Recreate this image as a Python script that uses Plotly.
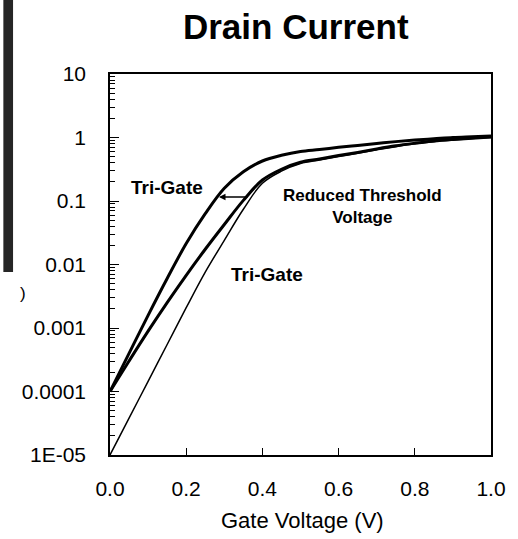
import plotly.graph_objects as go

# Gate voltage (V)
vg = [0.0, 0.05, 0.10, 0.15, 0.20, 0.25, 0.30, 0.35, 0.40, 0.45, 0.50,
      0.55, 0.60, 0.65, 0.70, 0.75, 0.80, 0.85, 0.90, 0.95, 1.00]

# log10 of drain current for each curve
log_tri_gate_low_vt = [-4.0, -3.40, -2.80, -2.22, -1.67, -1.20, -0.80, -0.54, -0.37, -0.28, -0.22,
                       -0.19, -0.155, -0.125, -0.095, -0.065, -0.04, -0.02, 0.0, 0.012, 0.024]
log_tri_gate = [-4.0, -3.52, -3.05, -2.60, -2.17, -1.76, -1.37, -0.99, -0.67, -0.50, -0.39,
                -0.34, -0.285, -0.235, -0.18, -0.13, -0.09, -0.055, -0.03, -0.01, 0.008]
log_planar = [-5.0, -4.42, -3.84, -3.26, -2.68, -2.12, -1.62, -1.13, -0.72, -0.53, -0.41,
              -0.355, -0.30, -0.25, -0.195, -0.145, -0.10, -0.065, -0.04, -0.015, 0.0]

ytick_vals = [1e-5, 1e-4, 1e-3, 1e-2, 1e-1, 1, 10]
ytick_text = ["1E-05", "0.0001", "0.001", "0.01", "0.1", "1", "10"]
xtick_vals = [0.0, 0.2, 0.4, 0.6, 0.8, 1.0]

FONT = "Liberation Sans, Arial, sans-serif"

fig = go.Figure()
for ys, w in [(log_planar, 1.5), (log_tri_gate, 3), (log_tri_gate_low_vt, 3)]:
    fig.add_trace(go.Scatter(
        x=vg, y=[10 ** v for v in ys], mode="lines",
        line=dict(color="black", width=w, shape="spline", smoothing=1.0),
        showlegend=False, hoverinfo="skip"))

minor_vals = [m * d for d in ytick_vals[:-1] for m in range(2, 10)]

fig.update_layout(
    width=518, height=539,
    margin=dict(l=110, r=15, t=74, b=84),
    paper_bgcolor="white", plot_bgcolor="white",
    font=dict(family=FONT, color="black", size=21),
    title=dict(text="<b>Drain Current</b>", x=0.571, xanchor="center",
               y=1 - 27 / 539, yanchor="middle",
               font=dict(family=FONT, size=35, color="black")),
)

fig.update_xaxes(
    range=[0, 1], tickvals=xtick_vals, tickformat=".1f",
    ticks="inside", ticklen=7, tickwidth=1.2, tickcolor="black",
    showline=True, linecolor="black", linewidth=1.5, mirror=True,
    showgrid=False, zeroline=False, ticklabelstandoff=14,
    tickfont=dict(size=21))

fig.update_yaxes(
    type="log", range=[-5, 1], tickvals=ytick_vals, ticktext=ytick_text,
    ticks="inside", ticklen=9, tickwidth=1.2, tickcolor="black",
    minor=dict(tickmode="array", tickvals=minor_vals, ticks="inside",
               ticklen=5, tickcolor="black", tickwidth=1, showgrid=False),
    showline=True, linecolor="black", linewidth=1.5, mirror=True,
    showgrid=False, zeroline=False, ticklabelstandoff=18,
    tickfont=dict(size=21))

# x-axis title
fig.add_annotation(text="Gate Voltage (V)", xref="paper", yref="paper",
                   x=(309 - 110) / 393, y=(455 - 520) / 381,
                   xanchor="center", yanchor="middle", showarrow=False,
                   font=dict(size=22, family=FONT))

# curve labels
fig.add_annotation(text="<b>Tri-Gate</b>", x=0.150, y=-0.795, xref="x", yref="y",
                   showarrow=False, font=dict(size=19, family=FONT))
fig.add_annotation(text="<b>Tri-Gate</b>", x=0.413, y=-2.165, xref="x", yref="y",
                   showarrow=False, font=dict(size=19, family=FONT))
fig.add_annotation(text="<b>Reduced Threshold<br>Voltage</b>", x=0.662, y=-1.08,
                   xref="x", yref="y", showarrow=False,
                   font=dict(size=17, family=FONT))

# arrow
fig.add_annotation(x=0.286, y=-0.937, ax=0.365, ay=-0.937, xref="x", yref="y",
                   axref="x", ayref="y", text="", showarrow=True,
                   arrowhead=2, arrowsize=1, arrowwidth=1.3, arrowcolor="black")

# scan remnants at the left edge
fig.add_shape(type="rect", xref="paper", yref="paper",
              x0=-110 / 393, x1=(10 - 110) / 393,
              y0=(455 - 272) / 381, y1=455 / 381,
              fillcolor="#262626", line=dict(width=0))
fig.add_annotation(text=")", xref="paper", yref="paper",
                   x=(15 - 110) / 393, y=(455 - 293) / 381,
                   showarrow=False, font=dict(size=17, family=FONT))

fig.write_html("out.html")
